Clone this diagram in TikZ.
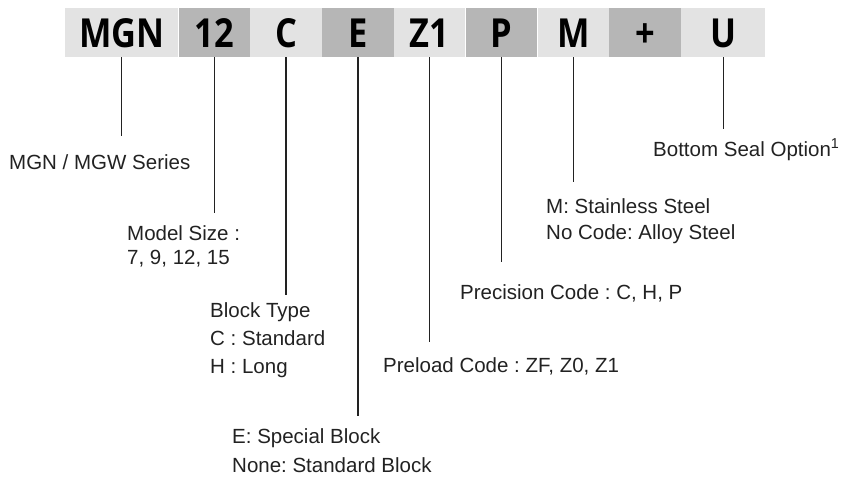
\documentclass[tikz,border=0pt]{standalone}
\usepackage{fontspec}
\setmainfont{Liberation Sans}
\newfontfamily\codefont[FakeStretch=0.86]{Open Sans}
\usetikzlibrary{positioning}
\definecolor{codelight}{HTML}{E3E3E3}
\definecolor{codedark}{HTML}{B6B6B6}
\definecolor{textgrey}{HTML}{222222}
\frenchspacing

\begin{document}
\begin{tikzpicture}[x=1pt, y=-1pt, node distance=0pt,
    codebox/.style={minimum height=49pt, minimum width=71.4pt, inner xsep=0pt,
      inner ysep=10pt, text height=29pt, text depth=0pt,
      font=\codefont\bfseries\fontsize{40}{40}\selectfont},
    light/.style={codebox, fill=codelight},
    dark/.style={codebox, fill=codedark},
    label/.style={anchor=base west, align=left, inner sep=0pt, text=textgrey,
      font=\fontsize{20.5}{28}\selectfont},
    leader/.style={draw=textgrey, line width=1.3pt}]
    \useasboundingbox (0,0) rectangle (859,477);

    % code boxes
    \node[light, minimum width=113pt, anchor=north west] (mgn) at (65,8) {MGN};
    \node[dark, right=of mgn] (size) {12};
    \node[light, right=of size] (type) {C};
    \node[dark, right=of type] (special) {E};
    \node[light, right=of special] (preload) {Z1};
    \node[dark, right=of preload] (precision) {P};
    \node[light, right=of precision] (material) {M};
    \node[dark, right=of material] (plus) {+};
    \node[light, minimum width=84pt, right=of plus] (seal) {U};

    % descriptions (base = last line)
    \node[label] (series text) at (9,169) {MGN / MGW Series};
    \node[label, font=\fontsize{20.5}{24}\selectfont] (size text) at (127,264) {Model Size :\\7, 9, 12, 15};
    \node[label] (type text) at (210,373) {Block Type\\C : Standard\\H : Long};
    \node[label, font=\fontsize{20.5}{29}\selectfont] (special text) at (232,472) {E: Special Block\\None: Standard Block};
    \node[label] (preload text) at (383,372) {Preload Code : ZF, Z0, Z1};
    \node[label] (precision text) at (460,299) {Precision Code : C, H, P};
    \node[label, font=\fontsize{20.5}{26}\selectfont] (material text) at (546,239) {M: Stainless Steel\\No Code: Alloy Steel};
    \node[label] (seal text) at (653,156) {Bottom Seal Option\textsuperscript{1}};

    % leader ends
    \coordinate (mgn end) at (mgn.south |- 0,136);
    \coordinate (size end) at (size.south |- 0,213);
    \coordinate (type end) at (type.south |- 0,295);
    \coordinate (special end) at (special.south |- 0,416);
    \coordinate (preload end) at (preload.south |- 0,342);
    \coordinate (precision end) at (precision.south |- 0,262);
    \coordinate (material end) at (material.south |- 0,182);
    \coordinate (seal end) at (seal.south |- 0,129);

    \foreach \n in {mgn, size, type, special, preload, precision, material, seal}
        \draw[leader] (\n.south) -- (\n\space end);
\end{tikzpicture}
\end{document}
